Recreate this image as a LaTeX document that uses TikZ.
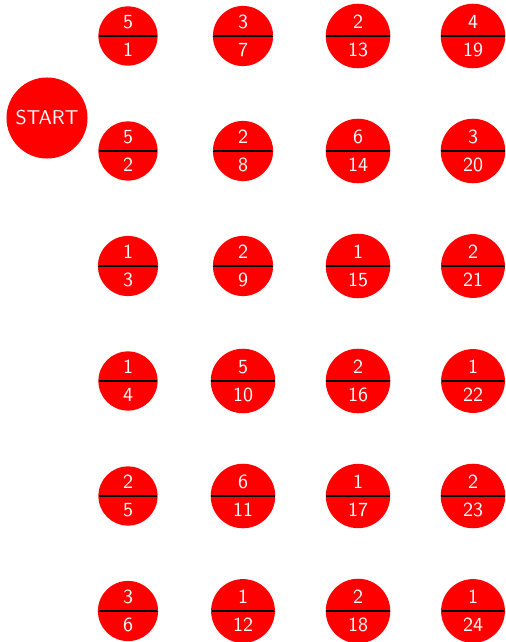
\documentclass[tikz,border=0pt]{standalone}
\usetikzlibrary{shapes.multipart}
\begin{document}
\begin{tikzpicture}[x=0.5pt,y=-0.5pt,
  ball/.style={circle split, fill=red, draw=none, text=white, font=\sffamily, outer sep=0pt},
  startball/.style={circle, fill=red, draw=none, text=white, font=\sffamily},
  divider/.style={draw=black, line width=0.8pt, shorten <=0.3pt, shorten >=0.3pt}]
\useasboundingbox (0,0) rectangle (505,642);
\node[startball] (start) at (47,118) {START};
\foreach \c/\top/\bot [count=\i] in {
  1/5/1, 1/5/2, 1/1/3, 1/1/4, 1/2/5, 1/3/6,
  2/3/7, 2/2/8, 2/2/9, 2/5/10, 2/6/11, 2/1/12,
  3/2/13, 3/6/14, 3/1/15, 3/2/16, 3/1/17, 3/2/18,
  4/4/19, 4/3/20, 4/2/21, 4/1/22, 4/2/23, 4/1/24}{
  \pgfmathtruncatemacro{\r}{mod(\i-1,6)}
  \node[ball] (n\bot) at ({128+115*(\c-1)},{36+115*\r}) {\top \nodepart{lower} \bot};
  \draw[divider] (n\bot.west) -- (n\bot.east);
}
\end{tikzpicture}
\end{document}
